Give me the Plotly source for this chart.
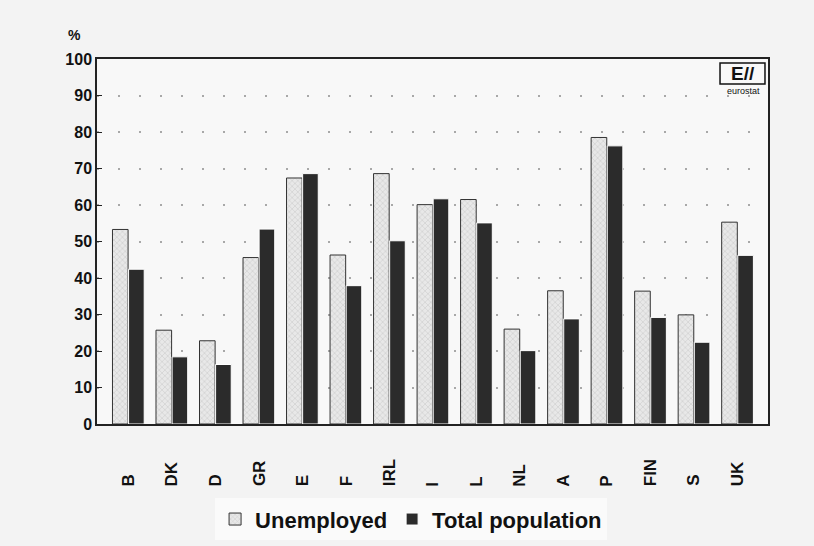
import plotly.graph_objects as go

countries = ["B", "DK", "D", "GR", "E", "F", "IRL", "I", "L", "NL", "A", "P", "FIN", "S", "UK"]
unemployed = [53.3, 25.7, 22.8, 45.6, 67.4, 46.3, 68.6, 60.1, 61.5, 26.0, 36.5, 78.5, 36.4, 29.9, 55.3]
total_population = [42.4, 18.4, 16.3, 53.4, 68.6, 37.9, 50.2, 61.7, 55.1, 20.1, 28.8, 76.2, 29.2, 22.4, 46.2]
y_ticks = [0, 10, 20, 30, 40, 50, 60, 70, 80, 90, 100]

FONT = "Liberation Sans"

fig = go.Figure()
fig.add_trace(go.Bar(
    x=countries, y=unemployed, name="Unemployed",
    marker=dict(color="#e4e4e4",
                pattern=dict(shape="x", fgcolor="#a8a8a8", bgcolor="#e8e8e8", size=4, solidity=0.25),
                line=dict(color="#333333", width=1)),
))
fig.add_trace(go.Bar(
    x=countries, y=total_population, name="Total population",
    marker=dict(color="#2b2b2b", line=dict(color="#ffffff", width=1)),
))

annotations = []
for c in countries:
    annotations.append(dict(
        x=c, xref="x", y=-0.176, yref="paper", text="<b>%s</b>" % c,
        textangle=-90, showarrow=False, xanchor="center", yanchor="bottom",
        font=dict(family=FONT, size=17, color="#111111"),
    ))
annotations.append(dict(x=-0.033, y=1.066, xref="paper", yref="paper", text="<b>%</b>",
                        showarrow=False, xanchor="center", yanchor="middle",
                        font=dict(family=FONT, size=14, color="#111111")))
annotations.append(dict(x=0.962, y=0.960, xref="paper", yref="paper", text="<b>E//</b>",
                        showarrow=False, xanchor="center", yanchor="middle",
                        font=dict(family=FONT, size=19, color="#111111")))
annotations.append(dict(x=0.963, y=0.911, xref="paper", yref="paper", text="eurostat",
                        showarrow=False, xanchor="center", yanchor="middle",
                        font=dict(family=FONT, size=9, color="#111111")))

fig.update_layout(
    width=814, height=546,
    margin=dict(l=97, r=46, t=59, b=122),
    paper_bgcolor="#f3f3f3",
    plot_bgcolor="#f8f8f8",
    barmode="group", bargap=0.26, bargroupgap=0.03,
    font=dict(family=FONT, color="#111111"),
    showlegend=True,
    legend=dict(orientation="h", xref="container", yref="container",
                x=0.505, xanchor="center", y=0.049, yanchor="middle",
                font=dict(family=FONT, size=22, color="#111111", weight="bold"),
                bgcolor="rgba(255,255,255,0.6)", itemwidth=30, traceorder="normal"),
    xaxis=dict(range=[-0.72, 14.70], showticklabels=False, ticks="", showgrid=False,
               showline=True, linecolor="#222222", linewidth=1.5, mirror=True, zeroline=False),
    yaxis=dict(range=[0, 100], tickvals=y_ticks, ticktext=["<b>%d</b>" % v for v in y_ticks],
               ticks="inside", ticklen=5, tickcolor="#222222",
               tickfont=dict(family=FONT, size=16, color="#111111"),
               showgrid=True, gridcolor="#a8a8a8", gridwidth=1.5, griddash="2px,19px",
               showline=True, linecolor="#222222", linewidth=1.5, mirror=True, zeroline=False),
    shapes=[dict(type="rect", xref="paper", yref="paper", x0=0.9285, x1=0.9955, y0=0.9315, y1=0.989,
                 line=dict(color="#111111", width=1.5), fillcolor="rgba(0,0,0,0)")],
    annotations=annotations,
)

fig.write_html("out.html", config={"displayModeBar": False},
               post_script="document.body.style.margin='0';")
